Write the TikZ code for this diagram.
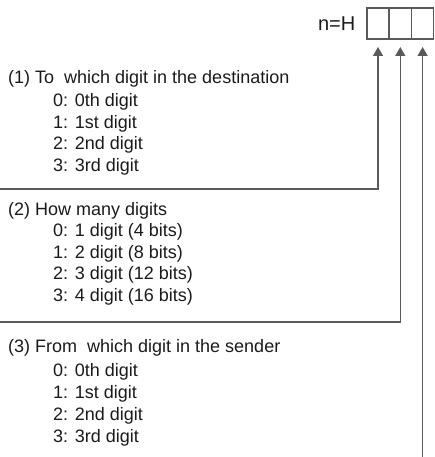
\documentclass[tikz,border=0pt]{standalone}
\usepackage{fontspec}
\setmainfont{Liberation Sans}
\usetikzlibrary{arrows.meta,positioning}
\definecolor{ink}{HTML}{1A1A1A}
\definecolor{wire}{HTML}{5A5A5A}

\begin{document}
\begin{tikzpicture}[x=1pt,y=1pt,
  cell/.style={draw=wire, line width=1.4pt, minimum width=22.3pt, minimum height=31pt, inner sep=0pt, outer sep=0pt},
  head/.style={font=\fontsize{18}{22}\selectfont, text=ink, anchor=west, inner sep=0pt},
  item/.style={head},
  link/.style={draw=wire, line width=1.4pt, -{Triangle[length=9pt,width=10pt]}, shorten >=8pt}]
  \useasboundingbox (0,0) rectangle (435,-457);
  % the register n=H
  \node[cell] (c1) at (378,-23.5) {};
  \node[cell, right=0pt of c1] (c2) {};
  \node[cell, right=0pt of c2] (c3) {};
  \node[font=\fontsize{20}{24}\selectfont, text=ink, left=8pt of c1] (nh) {n=H};
  % (1)
  \node[head] (h1) at (8,-79) {(1) To\ \ which digit in the destination};
  \foreach \cnt/\ord in {0/0th,1/1st,2/2nd,3/3rd}
    \node[item] (d\cnt) at (53,-102-\cnt*21.5) {\cnt: \ord\ digit};
  % (2)
  \node[head] (h2) at (8,-211) {(2) How many digits};
  \foreach \cnt/\len/\bits in {0/1/4,1/2/8,2/3/12,3/4/16}
    \node[item] (w\cnt) at (53,-232-\cnt*21.5) {\cnt: \len\ digit (\bits\ bits)};
  % (3)
  \node[head] (h3) at (8,-348) {(3) From\ \ which digit in the sender};
  \foreach \cnt/\ord in {0/0th,1/1st,2/2nd,3/3rd}
    \node[item] (s\cnt) at (53,-372-\cnt*22) {\cnt: \ord\ digit};
  % leaders
  \coordinate (e1) at (0,-189);
  \coordinate (e2) at (0,-322);
  \coordinate (e3) at (0,-457);
  \draw[link] (e1) -| (c1.south);
  \draw[link] (e2) -| (c2.south);
  \draw[link] (c3.south |- e3) -- (c3.south);
\end{tikzpicture}
\end{document}
